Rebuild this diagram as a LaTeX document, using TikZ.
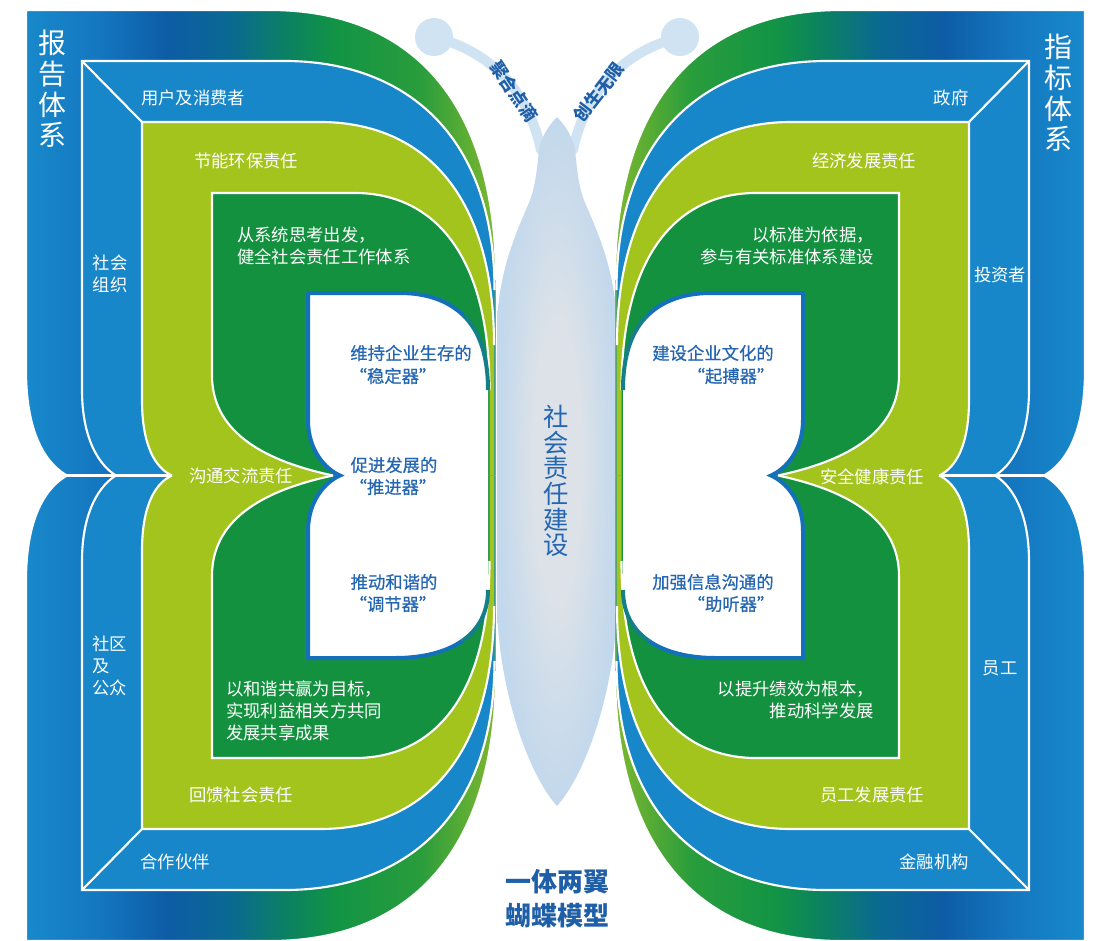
\documentclass[tikz,border=0pt]{standalone}
\usepackage{fontspec}
\setmainfont{Noto Sans CJK SC}
\newfontfamily\semibold{Noto Sans CJK SC}[FakeBold=0.6]
\definecolor{bandblue}{HTML}{1787C9}
\definecolor{bandyellow}{HTML}{A3C31D}
\definecolor{banddgreen}{HTML}{13913F}
\definecolor{textblue}{HTML}{1F5FA8}
\definecolor{innerblue}{HTML}{2466B1}
\definecolor{bodyblue}{HTML}{C2D8EC}
\definecolor{bodylight}{HTML}{DCE2E8}
\definecolor{antblue}{HTML}{D0E3F2}
\definecolor{borderblue}{HTML}{1570BC}
\definecolor{borderteal}{HTML}{147E8A}
\definecolor{oA}{HTML}{1889CB}
\definecolor{oB}{HTML}{1476BF}
\definecolor{oC}{HTML}{0D5CA6}
\definecolor{oD}{HTML}{0A6A90}
\definecolor{oE}{HTML}{0B8260}
\definecolor{oF}{HTML}{129445}
\definecolor{oG}{HTML}{2A9D3C}
\definecolor{oH}{HTML}{7DB82E}
\pgfdeclarehorizontalshading{wingL}{100bp}{color(0bp)=(oA); color(25bp)=(oA); color(33bp)=(oB); color(40bp)=(oC); color(47bp)=(oD); color(53bp)=(oE); color(58bp)=(oF); color(67bp)=(oG); color(75bp)=(oH); color(100bp)=(oH)}
\pgfdeclarehorizontalshading{wingR}{100bp}{color(0bp)=(oH); color(25bp)=(oH); color(33bp)=(oG); color(42bp)=(oF); color(47bp)=(oE); color(53bp)=(oD); color(60bp)=(oC); color(67bp)=(oB); color(75bp)=(oA); color(100bp)=(oA)}
\pgfdeclareradialshading{bodyshade}{\pgfpoint{0bp}{0bp}}{color(0bp)=(bodylight); color(10bp)=(bodylight); color(25bp)=(bodyblue); color(50bp)=(bodyblue)}
% upper-left half outlines (pixel coordinates, y downwards)
\def\outerS{(67,475.5) .. controls (50,466) and (26,440) .. (26,370) -- (26,10) -- (270,10) .. controls (410,10) and (496,100) .. (496,280)}
\def\blueS{(116,475.5) .. controls (100,466) and (82,440) .. (82,390) -- (82,61) -- (285,61) .. controls (400,61) and (494.5,130) .. (494.5,290)}
\def\yelS{(172,475.5) .. controls (155,468) and (142,445) .. (142,400) -- (142,122) -- (320,122) .. controls (420,122) and (494,190) .. (494,345)}
\def\grnS{(333,475.5) .. controls (260,460) and (212,430) .. (212,375) -- (212,193) -- (355,193) .. controls (430,193) and (489.5,250) .. (489.5,390)}
% full white inner region of the left wing
\def\whtF{(308,293) -- (400,293) .. controls (450,293) and (488,320) .. (488,390) -- (488,590)
  .. controls (488,635) and (450,658) .. (395,658) -- (308,658) -- (308,531)
  .. controls (308,501) and (325,482) .. (340,475.5) .. controls (325,469) and (308,450) .. (308,420) -- cycle}
\def\whtA{(463.25,315.25) .. controls (447.25,299.75) and (425,293) .. (400,293) -- (308,293) -- (308,420)
  .. controls (308,450) and (325,469) .. (340,475.5) .. controls (325,482) and (308,501) .. (308,531) -- (308,658) -- (395,658)
  .. controls (422.5,658) and (445.75,652.25) .. (462.125,640.875)}
\def\whtB{(463.25,315.25) .. controls (479.25,330.75) and (488,355) .. (488,390)}
\def\whtC{(462.125,640.875) .. controls (478.5,629.5) and (488,612.5) .. (488,590)}
\newcommand\leftpair[1]{\begin{scope}#1\end{scope}\begin{scope}[shift={(0,951)},yscale=-1]#1\end{scope}}
\newcommand\rightpair[1]{\begin{scope}[shift={(1111,0)},xscale=-1]#1\end{scope}\begin{scope}[shift={(1111,951)},xscale=-1,yscale=-1]#1\end{scope}}
\newcommand\bothpairs[1]{\leftpair{#1}\rightpair{#1}}
\newcommand\bothsides[1]{\begin{scope}#1\end{scope}\begin{scope}[shift={(1111,0)},xscale=-1]#1\end{scope}}
\begin{document}
\begin{tikzpicture}[x=0.75pt,y=-0.75pt,
  wline/.style={white, line width=1.6pt},
  bborder/.style={draw=borderblue, line width=3pt},
  tborder/.style={draw=borderteal, line width=3pt},
  stalk/.style={draw=antblue, line width=7.5pt, line cap=round},
  wl/.style={text=white, font=\fontsize{13}{16.5}\selectfont, inner sep=0pt},
  bl/.style={text=innerblue, font=\fontsize{13}{16.5}\selectfont\semibold, inner sep=0pt},
  vtitle/.style={text=white, font=\fontsize{21}{23}\selectfont, align=center, inner sep=0pt},
  antl/.style={text=textblue, font=\fontsize{13}{15}\selectfont\bfseries, inner sep=0pt},
  bodyt/.style={text=innerblue, font=\fontsize{19}{19.3}\selectfont, align=center, inner sep=0pt},
  bottomt/.style={text=textblue, font=\fontsize{19.5}{24}\selectfont\bfseries, inner sep=0pt}]
\fill[white] (0,0) rectangle (1097,940);
\useasboundingbox (0,0) rectangle (1097,940);
% antennae
\coordinate (hl) at (434,37);
\coordinate (hr) at (680,37);
\coordinate (jl) at (541,150);
\coordinate (jr) at (573,150);
\draw[stalk] (hl) .. controls (485,50) and (527,85) .. (jl);
\draw[stalk] (hr) .. controls (629,50) and (587,85) .. (jr);
\fill[antblue] (hl) circle (19);
\fill[antblue] (hr) circle (19);
% body
\shade[shading=bodyshade] (557,117) .. controls (548,126) and (541,138) .. (539,150)
  .. controls (537,170) and (535,190) .. (528,205) .. controls (515,235) and (500,270) .. (497,320)
  -- (497,600) .. controls (497,680) and (525,770) .. (557,806)
  .. controls (589,770) and (617,680) .. (617,600) -- (617,320)
  .. controls (614,270) and (599,235) .. (586,205) .. controls (579,190) and (577,170) .. (575,150)
  .. controls (573,138) and (566,126) .. (557,117) -- cycle;
% wings
\leftpair{\shade[shading=wingL] \outerS -- (496,475.5) -- cycle; \draw[wline] \outerS;}
\rightpair{\shade[shading=wingR] \outerS -- (496,475.5) -- cycle; \draw[wline] \outerS;}
\bothpairs{\fill[bandblue] \blueS -- (494.5,475.5) -- cycle; \draw[wline] \blueS; \draw[wline] (82,61) -- (142,122);}
\bothpairs{\fill[bandyellow] \yelS -- (494,475.5) -- cycle; \draw[wline] \yelS;}
\bothsides{\draw[bandyellow, line width=1pt] (173,475.5) -- (328,475.5);}
\bothpairs{\fill[banddgreen] \grnS -- (489.5,475.5) -- cycle; \draw[wline] \grnS;}
\bothsides{\fill[white] \whtF; \draw[bborder] \whtA; \draw[tborder] \whtB; \draw[tborder] \whtC;}
\bothsides{\draw[wline] (67,475.5) -- (172,475.5);}
% titles
\node[vtitle] (tL) at (52,89) {报\\告\\体\\系};
\node[vtitle] (tR) at (1058,93) {指\\标\\体\\系};
% left wing texts
\node[wl] (a1) at (193,98) {用户及消费者};
\node[wl] (a2) at (246,161) {节能环保责任};
\node[wl, align=left] (a3) at (110,274) {社会\\组织};
\node[wl, align=left, anchor=west] (a4) at (237,246) {从系统思考出发，\\健全社会责任工作体系};
\node[bl] (a5) at (411,353) {维持企业生存的};
\node[bl] (a6) at (393,376) {“稳定器”};
\node[wl] (a7) at (241,476) {沟通交流责任};
\node[bl] (a8) at (394,465) {促进发展的};
\node[bl] (a9) at (393,487) {“推进器”};
\node[bl] (a10) at (394,582) {推动和谐的};
\node[bl] (a11) at (393,604) {“调节器”};
\node[wl, align=left, anchor=west] (a12) at (92,666) {社区\\及\\公众};
\node[wl, align=left, anchor=west] (a13) at (226,711) {以和谐共赢为目标，\\实现利益相关方共同\\发展共享成果};
\node[wl] (a14) at (241,795) {回馈社会责任};
\node[wl] (a15) at (175,862) {合作伙伴};
% right wing texts
\node[wl] (b1) at (951,98) {政府};
\node[wl] (b2) at (864,161) {经济发展责任};
\node[wl] (b3) at (1000,275) {投资者};
\node[wl, align=right, anchor=east] (b4) at (874,246) {以标准为依据，\\参与有关标准体系建设};
\node[bl] (b5) at (713,353) {建设企业文化的};
\node[bl] (b6) at (731,376) {“起搏器”};
\node[wl] (b7) at (872,477) {安全健康责任};
\node[bl] (b8) at (713,582) {加强信息沟通的};
\node[bl] (b9) at (731,604) {“助听器”};
\node[wl] (b10) at (1000,668) {员工};
\node[wl, align=right, anchor=east] (b11) at (874,700) {以提升绩效为根本，\\推动科学发展};
\node[wl] (b12) at (872,795) {员工发展责任};
\node[wl] (b13) at (934,862) {金融机构};
% centre texts
\node[antl, rotate=-56] (c1) at (514,91) {聚合点滴};
\node[antl, rotate=52] (c2) at (599,92) {创生无限};
\node[bodyt] (c3) at (556,481) {社\\会\\责\\任\\建\\设};
\node[bottomt] (c4) at (557,882) {一体两翼};
\node[bottomt] (c5) at (557,916) {蝴蝶模型};
\end{tikzpicture}
\end{document}
